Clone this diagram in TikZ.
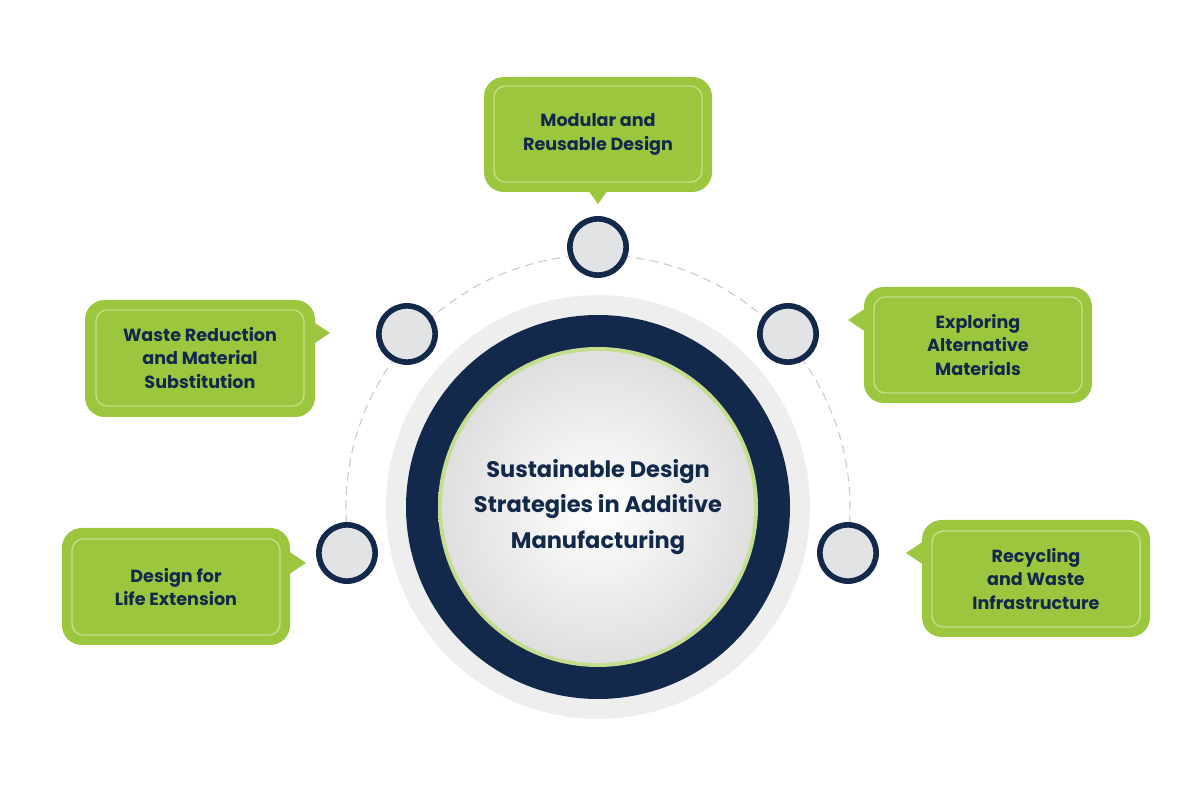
\documentclass[tikz,border=0pt]{standalone}
\usepackage{fontspec}
\setmainfont{Poppins}
\usetikzlibrary{positioning}
\definecolor{leaf}{HTML}{9DC63F}
\definecolor{leafline}{HTML}{C4DE86}
\definecolor{navy}{HTML}{13294B}
\definecolor{ringgray}{HTML}{EEEEEE}
\definecolor{dotgray}{HTML}{E2E3E5}
\tikzset{
  card/.style={draw=leafline, line width=1pt, rounded corners=8pt, fill=leaf,
    minimum width=5.2cm, minimum height=2.4cm, align=center, text=navy,
    font=\bfseries\fontsize{12.5}{17}\selectfont},
  cardback/.style={fill=leaf, rounded corners=14pt}
}
\newcommand{\knobat}[2]{%
  \fill[white] (#1) circle (27);
  \draw[dotgray!70, line width=0.8pt] (#1) circle (27);
  \node[circle, fill=dotgray, draw=navy, line width=4pt, minimum size=40pt, inner sep=0pt] (#2) at (#1) {};}
\begin{document}
\begin{tikzpicture}[x=0.025cm, y=0.025cm]
\useasboundingbox (0,0) rectangle (1200,800);
% centre
\fill[ringgray] (598,293) circle (212);
\fill[navy] (598,293) circle (192);
\shade[inner color=white, outer color=leaf!60] (598,293) circle (160);
\shade[inner color=white, outer color=gray!25] (598,293) circle (156);
\node[text=navy, align=center, font=\bfseries\fontsize{16}{25}\selectfont] (hub) at (598,293)
  {Sustainable Design\\Strategies in Additive\\Manufacturing};
% dashed arc
\draw[gray!40, dash pattern=on 6pt off 4pt, line width=0.8pt]
  (598,293) ++(190:252) arc (190:-10:252);
% knobs
\knobat{598,553}{kT}
\knobat{407,466}{kUL}
\knobat{788,466}{kUR}
\knobat{347,247}{kLL}
\knobat{848,247}{kLR}
% cards with pointers
\fill[leaf] (588,610) -- (598,596) -- (608,610) -- cycle;
\fill[cardback] (484,608) rectangle (712,723);
\node[card] (cT) at (598,666) {Modular and\\Reusable Design};
\fill[leaf] (312,455) -- (330,467) -- (312,479) -- cycle;
\fill[cardback] (85,383) rectangle (315,500);
\node[card] (cUL) at (200,442) {Waste Reduction\\and Material\\Substitution};
\fill[leaf] (866,468) -- (848,480) -- (866,492) -- cycle;
\fill[cardback] (864,397) rectangle (1092,513);
\node[card] (cUR) at (978,455) {Exploring\\Alternative\\Materials};
\fill[leaf] (288,225) -- (306,237) -- (288,249) -- cycle;
\fill[cardback] (62,155) rectangle (290,272);
\node[card] (cLL) at (176,213) {Design for\\Life Extension};
\fill[leaf] (924,235) -- (906,247) -- (924,259) -- cycle;
\fill[cardback] (922,163) rectangle (1150,280);
\node[card] (cLR) at (1036,221) {Recycling\\and Waste\\Infrastructure};
\end{tikzpicture}
\end{document}
